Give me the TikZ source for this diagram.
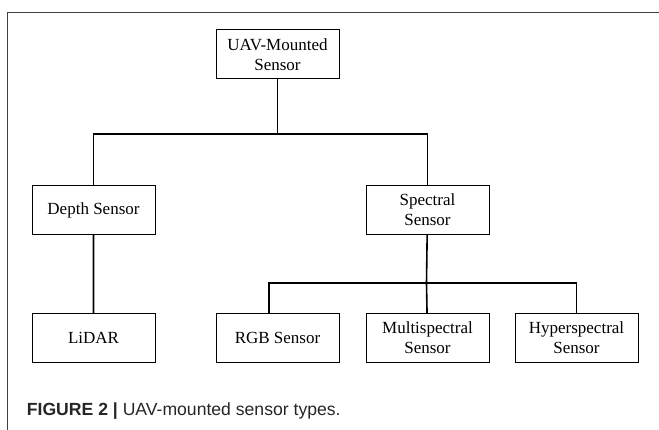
\documentclass[tikz,border=0pt]{standalone}
\usepackage{fontspec}
\setmainfont{Liberation Serif}
\newfontfamily\capfont{Liberation Sans}
\usepackage{tikz}
\usetikzlibrary{positioning}

\begin{document}
\begin{tikzpicture}[x=1pt, y=-1pt, sensor/.style = {draw, line width=1pt, minimum width=123pt, minimum height=49pt, align=center, inner sep=2pt, font=\fontsize{17}{20}\selectfont}, link/.style = {line width=1.6pt}, frame/.style = {line width=1pt, draw=black!75}]
            \useasboundingbox (0,0) rectangle (659,430);
            \draw[frame] (7,430) -- (7,13) -- (659,13);
            \node[sensor](U) at (277.5,54.5) {UAV-Mounted\\Sensor};
            \node[sensor](D) at (93.5,210) {Depth Sensor};
            \node[sensor](S)[right =210pt of D]{Spectral\\Sensor};
            \node[sensor](L)[below =78pt of D]{LiDAR};
            \node[sensor](M)[below =78pt of S]{Multispectral\\Sensor};
            \node[sensor](R)[left =26pt of M]{RGB Sensor};
            \node[sensor](H)[right =25pt of M]{Hyperspectral\\Sensor};
            \coordinate (b1) at (277.5,134);
            \coordinate (b2) at (426.5,283);
            \draw[link] (U) -- (b1) (D) |- (b1) -| (S);
            \draw[link] (S) -- (b2) -- (M) (D) -- (L);
            \draw[link] ([xshift=-8.5pt]R.north) |- (b2) -| (H);
            \node[anchor=base west, font=\capfont\fontsize{17.6}{20}\selectfont, text=black!85, inner sep=0pt](cap) at (26.7,415.7) {\textbf{FIGURE 2 |} UAV-mounted sensor types.};
        \end{tikzpicture}
\end{document}
